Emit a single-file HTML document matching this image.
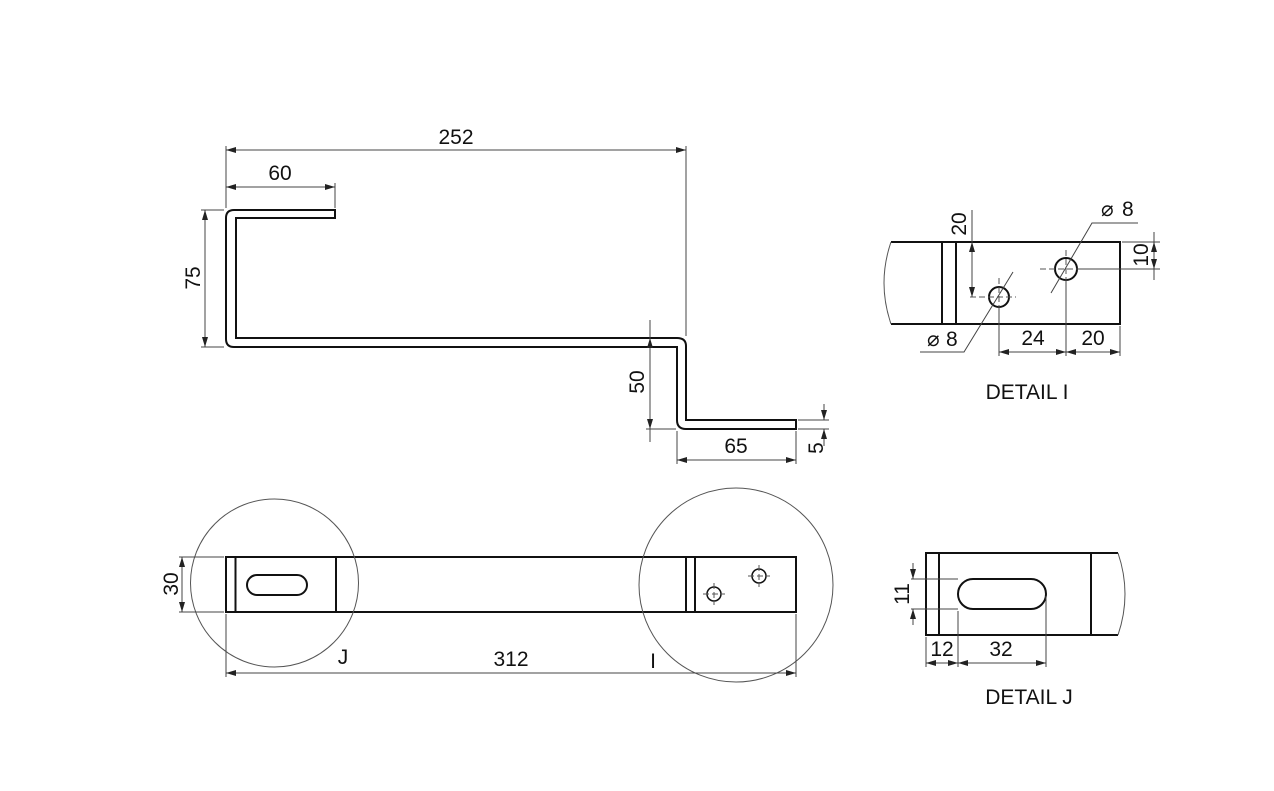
<!DOCTYPE html>
<html><head><meta charset="utf-8"><style>
html,body{margin:0;padding:0;background:#fff;}
svg{display:block;}
text{font-family:"Liberation Sans",sans-serif;font-size:21px;fill:#111;}
</style></head><body>
<svg width="1274" height="791" viewBox="0 0 1274 791" xmlns="http://www.w3.org/2000/svg">
<defs>
<marker id="a" viewBox="0 0 10 6" refX="10" refY="3" markerWidth="10" markerHeight="6" orient="auto-start-reverse" markerUnits="userSpaceOnUse"><path d="M0,0 L10,3 L0,6 z" fill="#222"/></marker>
</defs>
<g fill="none" stroke="#111" stroke-width="2">
<!-- Z profile -->
<path d="M335,210 H234 Q226,210 226,218 V339 Q226,347 234,347 H677 V420 Q677,429 686,429 H796 V420 H686 V346 Q686,338 677,338 H236 V218 H335 Z"/>
<!-- detail I -->
<path d="M891,242 H1120 V324 H891"/>
<line x1="942" y1="242" x2="942" y2="324"/><line x1="956" y1="242" x2="956" y2="324"/>
<circle cx="999" cy="297" r="10"/><circle cx="1066" cy="269" r="11"/>
<!-- detail J -->
<path d="M1118,553 H926 V635 H1118"/>
<line x1="939" y1="553" x2="939" y2="635"/><line x1="1091" y1="553" x2="1091" y2="635"/>
<rect x="958" y="579" width="88" height="30" rx="15"/>
<!-- bottom view -->
<rect x="226" y="557" width="570" height="55"/>
<line x1="235.5" y1="557" x2="235.5" y2="612"/><line x1="336" y1="557" x2="336" y2="612"/>
<line x1="686" y1="557" x2="686" y2="612"/><line x1="695" y1="557" x2="695" y2="612"/>
<rect x="247" y="575" width="60" height="20" rx="10"/>
<circle cx="714" cy="594" r="7" stroke-width="1.5"/><circle cx="759" cy="576" r="7" stroke-width="1.5"/>
</g>
<g fill="none" stroke="#555" stroke-width="1">
<path d="M891,242 Q877,283 891,324"/>
<path d="M1118,553 Q1132,594 1118,635"/>
<circle cx="274.5" cy="583" r="84" />
<ellipse cx="736" cy="585" rx="97" ry="97"/>
<!-- centerlines -->
<g stroke-dasharray="6,3">
<line x1="970" y1="297" x2="1016" y2="297"/><line x1="999" y1="278" x2="999" y2="316"/>
<line x1="1040" y1="269" x2="1095" y2="269"/><line x1="1066" y1="250" x2="1066" y2="288"/>
<line x1="703" y1="594" x2="725" y2="594"/><line x1="714" y1="583" x2="714" y2="605"/>
<line x1="748" y1="576" x2="770" y2="576"/><line x1="759" y1="565" x2="759" y2="587"/>
</g>
</g>
<g stroke="#444" stroke-width="1" fill="none">
<!-- top dims -->
<line x1="226" y1="208" x2="226" y2="146"/><line x1="686" y1="336" x2="686" y2="146"/>
<line x1="226" y1="150" x2="686" y2="150" marker-start="url(#a)" marker-end="url(#a)"/>
<line x1="335" y1="208" x2="335" y2="183"/>
<line x1="226" y1="187" x2="335" y2="187" marker-start="url(#a)" marker-end="url(#a)"/>
<line x1="224" y1="210" x2="201" y2="210"/><line x1="224" y1="347" x2="201" y2="347"/>
<line x1="205" y1="210" x2="205" y2="347" marker-start="url(#a)" marker-end="url(#a)"/>
<line x1="650" y1="320" x2="650" y2="442"/>
<line x1="650" y1="338" x2="650" y2="429" marker-start="url(#a)" marker-end="url(#a)"/>
<line x1="646" y1="429" x2="676" y2="429"/>
<line x1="677" y1="431" x2="677" y2="464"/><line x1="796" y1="431" x2="796" y2="464"/>
<line x1="677" y1="460" x2="796" y2="460" marker-start="url(#a)" marker-end="url(#a)"/>
<line x1="798" y1="420" x2="829" y2="420"/><line x1="798" y1="429" x2="829" y2="429"/>
<line x1="824" y1="404" x2="824" y2="420" marker-end="url(#a)"/>
<line x1="824" y1="446" x2="824" y2="429" marker-end="url(#a)"/>
<!-- detail I dims -->
<line x1="972" y1="210" x2="972" y2="242" />
<line x1="972" y1="242" x2="972" y2="297" marker-start="url(#a)" marker-end="url(#a)"/>
<line x1="1122" y1="242" x2="1160" y2="242"/><line x1="1077" y1="269" x2="1160" y2="269"/>
<line x1="1154" y1="232" x2="1154" y2="242" />
<line x1="1154" y1="242" x2="1154" y2="269" marker-start="url(#a)" marker-end="url(#a)"/>
<line x1="1154" y1="269" x2="1154" y2="280"/>
<line x1="999" y1="307" x2="999" y2="356"/><line x1="1066" y1="280" x2="1066" y2="356"/><line x1="1120" y1="326" x2="1120" y2="356"/>
<line x1="999" y1="352" x2="1066" y2="352" marker-start="url(#a)" marker-end="url(#a)"/>
<line x1="1066" y1="352" x2="1120" y2="352" marker-start="url(#a)" marker-end="url(#a)"/>
<polyline points="920,352 964,352 1013,272"/>
<polyline points="1138,223 1092,223 1051,293"/>
<!-- detail J dims -->
<line x1="911" y1="579" x2="958" y2="579"/><line x1="911" y1="609" x2="958" y2="609"/>
<line x1="913" y1="563" x2="913" y2="579" marker-end="url(#a)"/>
<line x1="913" y1="625" x2="913" y2="609" marker-end="url(#a)"/>
<line x1="926" y1="637" x2="926" y2="667"/><line x1="958" y1="611" x2="958" y2="667"/><line x1="1046" y1="596" x2="1046" y2="667"/>
<line x1="926" y1="663" x2="958" y2="663" marker-start="url(#a)" marker-end="url(#a)"/>
<line x1="958" y1="663" x2="1046" y2="663" marker-start="url(#a)" marker-end="url(#a)"/>
<!-- bottom view dims -->
<line x1="224" y1="557" x2="179" y2="557"/><line x1="224" y1="612" x2="179" y2="612"/>
<line x1="182" y1="557" x2="182" y2="612" marker-start="url(#a)" marker-end="url(#a)"/>
<line x1="226" y1="614" x2="226" y2="677"/><line x1="796" y1="614" x2="796" y2="677"/>
<line x1="226" y1="673" x2="796" y2="673" marker-start="url(#a)" marker-end="url(#a)"/>
</g>
<g>
<text x="456" y="144" text-anchor="middle">252</text>
<text x="280" y="180" text-anchor="middle">60</text>
<text transform="translate(200,278) rotate(-90)" text-anchor="middle">75</text>
<text transform="translate(644,382) rotate(-90)" text-anchor="middle">50</text>
<text x="736" y="453" text-anchor="middle">65</text>
<text transform="translate(823,448) rotate(-90)" text-anchor="middle">5</text>
<text transform="translate(966,224) rotate(-90)" text-anchor="middle">20</text>
<text transform="translate(1148,255) rotate(-90)" text-anchor="middle">10</text>
<text x="1033" y="345" text-anchor="middle">24</text>
<text x="1093" y="345" text-anchor="middle">20</text>
<text x="927" y="346">⌀</text><text x="946" y="346">8</text>
<text x="1101" y="216">⌀</text><text x="1122" y="216">8</text>
<text x="1027" y="399" text-anchor="middle">DETAIL I</text>
<text transform="translate(178,584) rotate(-90)" text-anchor="middle">30</text>
<text x="511" y="666" text-anchor="middle">312</text>
<text x="343" y="664" text-anchor="middle">J</text>
<text x="653" y="668" text-anchor="middle">I</text>
<text transform="translate(909,594) rotate(-90)" text-anchor="middle">11</text>
<text x="942" y="656" text-anchor="middle">12</text>
<text x="1001" y="656" text-anchor="middle">32</text>
<text x="1029" y="704" text-anchor="middle">DETAIL J</text>
</g>
</svg>
</body></html>
